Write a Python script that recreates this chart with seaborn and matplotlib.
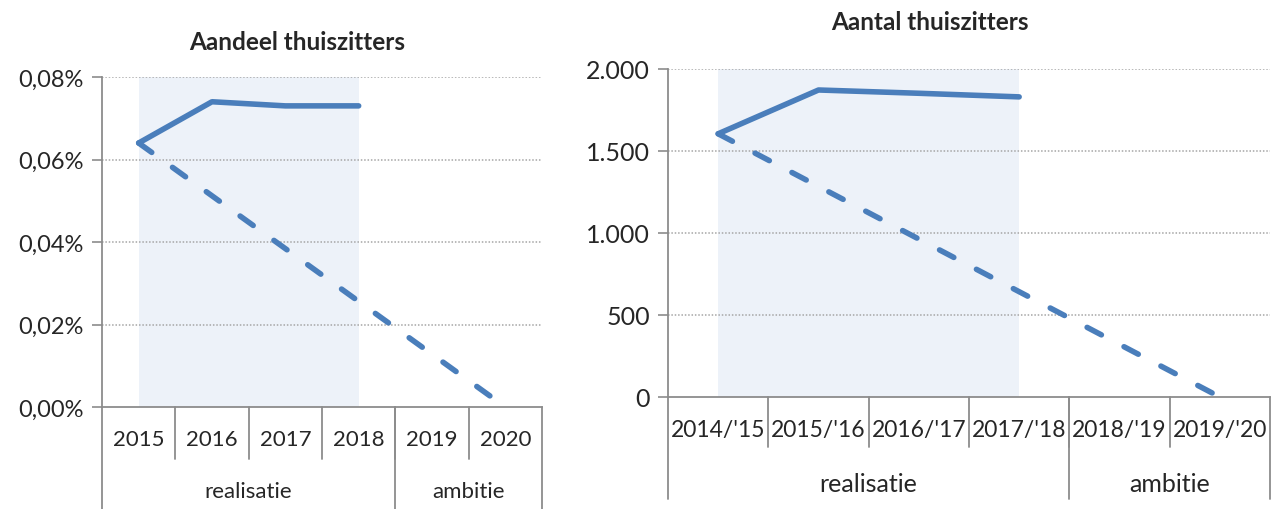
import numpy as np
import pandas as pd
import matplotlib
matplotlib.use("Agg")
import matplotlib.pyplot as plt
from matplotlib.ticker import FuncFormatter
import seaborn as sns

# Data
years_left = ["2015", "2016", "2017", "2018", "2019", "2020"]
share_real = [0.064, 0.074, 0.073, 0.073]          # % thuiszitters, realisatie
share_ambition = [0.064, 0.0]                       # start 2015 -> doel 2020

years_right = ["2014/'15", "2015/'16", "2016/'17", "2017/'18", "2018/'19", "2019/'20"]
count_real = [1605, 1872, 1852, 1830]
count_ambition = [1605, 0]

groups = ["realisatie", "ambitie"]
group_sizes = [4, 2]

blue = "#4a7ebb"
shade = "#edf2f9"
grey = "#8c8c8c"

sns.set_theme(style="white")
plt.rcParams["font.family"] = ["Lato", "DejaVu Sans"]

fig = plt.figure(figsize=(12.78, 5.10), dpi=100)
ax1 = fig.add_axes([102 / 1278, 1 - 408 / 510, 440 / 1278, 330 / 510])
ax2 = fig.add_axes([668 / 1278, 1 - 398 / 510, 602 / 1278, 328 / 510])


def draw_panel(ax, cats, real, ambition, ymax, step, fmt, lab_y, grp_y, tick_y,
               grp_line_y, fs_y, fs_x, fs_g):
    n = len(cats)
    x = np.arange(n)
    df_real = pd.DataFrame({"x": x[:len(real)], "y": real})
    df_amb = pd.DataFrame({"x": [x[0], x[-1]], "y": ambition})

    ax.axvspan(x[0], x[len(real) - 1], color=shade, lw=0, zorder=0)
    for v in np.arange(step, ymax + step / 2, step):
        ax.axhline(v, color="#a6a6a6", lw=1.1, ls=(0, (1, 1.2)), zorder=1)

    sns.lineplot(data=df_amb, x="x", y="y", ax=ax, color=blue, linewidth=4.0,
                 linestyle=(0, (2.9, 4.6)), dash_capstyle="round", zorder=3)
    sns.lineplot(data=df_real, x="x", y="y", ax=ax, color=blue, linewidth=4.0,
                 solid_capstyle="round", zorder=4)

    ax.set_xlim(-0.5, n - 0.5)
    ax.set_ylim(0, ymax)
    ax.set_yticks(np.arange(0, ymax + step / 2, step))
    ax.yaxis.set_major_formatter(FuncFormatter(fmt))
    ax.tick_params(axis="y", length=7, width=1.2, color=grey, labelsize=fs_y, pad=6,
                   left=True)
    ax.set_xticks([])
    ax.set_xlabel("")
    ax.set_ylabel("")
    for s in ["top", "right"]:
        ax.spines[s].set_visible(False)
    for s in ["left", "bottom"]:
        ax.spines[s].set_color(grey)
        ax.spines[s].set_linewidth(1.3)

    tr = ax.get_xaxis_transform()
    # category labels and separators
    for i, c in enumerate(cats):
        ax.text(i, lab_y, c, transform=tr, ha="center", va="center", fontsize=fs_x)
    for b in np.arange(0.5, n - 0.5):
        ax.plot([b, b], [0, tick_y], transform=tr, color=grey, lw=1.3, clip_on=False)
    # group labels and boundaries
    start = -0.5
    bounds = [start]
    for g, size in zip(groups, group_sizes):
        ax.text(start + size / 2, grp_y, g, transform=tr, ha="center", va="center",
                fontsize=fs_g)
        start += size
        bounds.append(start)
    for b in bounds:
        ax.plot([b, b], [0, grp_line_y], transform=tr, color=grey, lw=1.3, clip_on=False)


draw_panel(ax1, years_left, share_real, share_ambition, 0.08, 0.02,
           lambda v, p: f"{v:.2f}".replace(".", ",") + "%",
           -0.097, -0.255, -0.158, -0.309, 17, 16, 16)
draw_panel(ax2, years_right, count_real, count_ambition, 2000, 500,
           lambda v, p: f"{int(v):,}".replace(",", "."),
           -0.098, -0.265, -0.152, -0.311, 18, 16.5, 18)

fig.text(297 / 1278, 1 - 43 / 510, "Aandeel thuiszitters", ha="center", va="center",
         fontsize=17.5, fontweight="bold")
fig.text(930 / 1278, 1 - 22 / 510, "Aantal thuiszitters", ha="center", va="center",
         fontsize=17.5, fontweight="bold")

fig.savefig("out.png", dpi=100)
